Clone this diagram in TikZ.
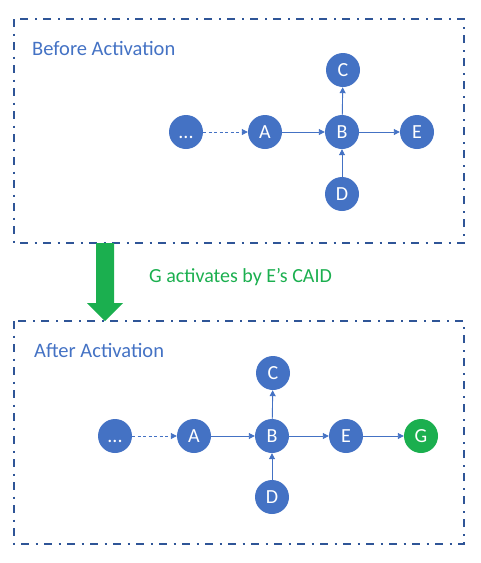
\documentclass[tikz,border=0pt]{standalone}
\usepackage{fontspec}
\setmainfont{Carlito}
\usetikzlibrary{arrows.meta}
\definecolor{nodeblue}{HTML}{4472C4}
\definecolor{boxblue}{HTML}{2F5597}
\definecolor{actgreen}{HTML}{1BAF4F}
\begin{document}
\begin{tikzpicture}[x=1pt,y=-1pt,
  nd/.style={circle,fill=nodeblue,text=white,minimum size=34pt,inner sep=0pt,font=\fontsize{20}{20}\selectfont},
  gnd/.style={nd,fill=actgreen},
  edge/.style={draw=nodeblue,line width=0.9pt,-{Triangle[length=6pt,width=6pt]}},
  dedge/.style={edge,dash pattern=on 3pt off 2.5pt},
  frame/.style={draw=boxblue,line width=1.6pt,dash pattern=on 8pt off 6.5pt on 2pt off 6.5pt},
  ttl/.style={anchor=west,text=nodeblue,font=\fontsize{20.5}{22}\selectfont,inner sep=0pt},
]
\useasboundingbox (0,0) rectangle (481,563);
% top frame
\draw[frame] (14,19) rectangle (464,243);
\node[ttl] (t1) at (32,48) {Before Activation};
\node[nd] (d1) at (186,132) {\vphantom{A}...};
\node[nd] (a1) at (265,132) {A};
\node[nd] (b1) at (342,132) {B};
\node[nd] (e1) at (417,132) {E};
\node[nd] (c1) at (343,70) {C};
\node[nd] (dd1) at (342,194) {D};
\draw[dedge] (d1) -- (a1);
\draw[edge] (a1) -- (b1);
\draw[edge] (b1) -- (e1);
\draw[edge] (b1) -- (c1);
\draw[edge] (dd1) -- (b1);
% green arrow
\fill[actgreen] (96,243) -- (114,243) -- (114,303) -- (123,303) -- (105,321) -- (87,303) -- (96,303) -- cycle;
\node[anchor=west,text=actgreen,font=\fontsize{20}{22}\selectfont,inner sep=0pt] (lbl) at (149,277) {G activates by E’s CAID};
% bottom frame
\draw[frame] (14,321) rectangle (464,544);
\node[ttl] (t2) at (34,350) {After Activation};
\node[nd] (d2) at (115,436) {\vphantom{A}...};
\node[nd] (a2) at (194,436) {A};
\node[nd] (b2) at (272,436) {B};
\node[nd] (e2) at (346,436) {E};
\node[gnd] (g2) at (421,436) {G};
\node[nd] (c2) at (273,373) {C};
\node[nd] (dd2) at (272,497) {D};
\draw[dedge] (d2) -- (a2);
\draw[edge] (a2) -- (b2);
\draw[edge] (b2) -- (e2);
\draw[edge] (e2) -- (g2);
\draw[edge] (b2) -- (c2);
\draw[edge] (dd2) -- (b2);
\end{tikzpicture}
\end{document}
